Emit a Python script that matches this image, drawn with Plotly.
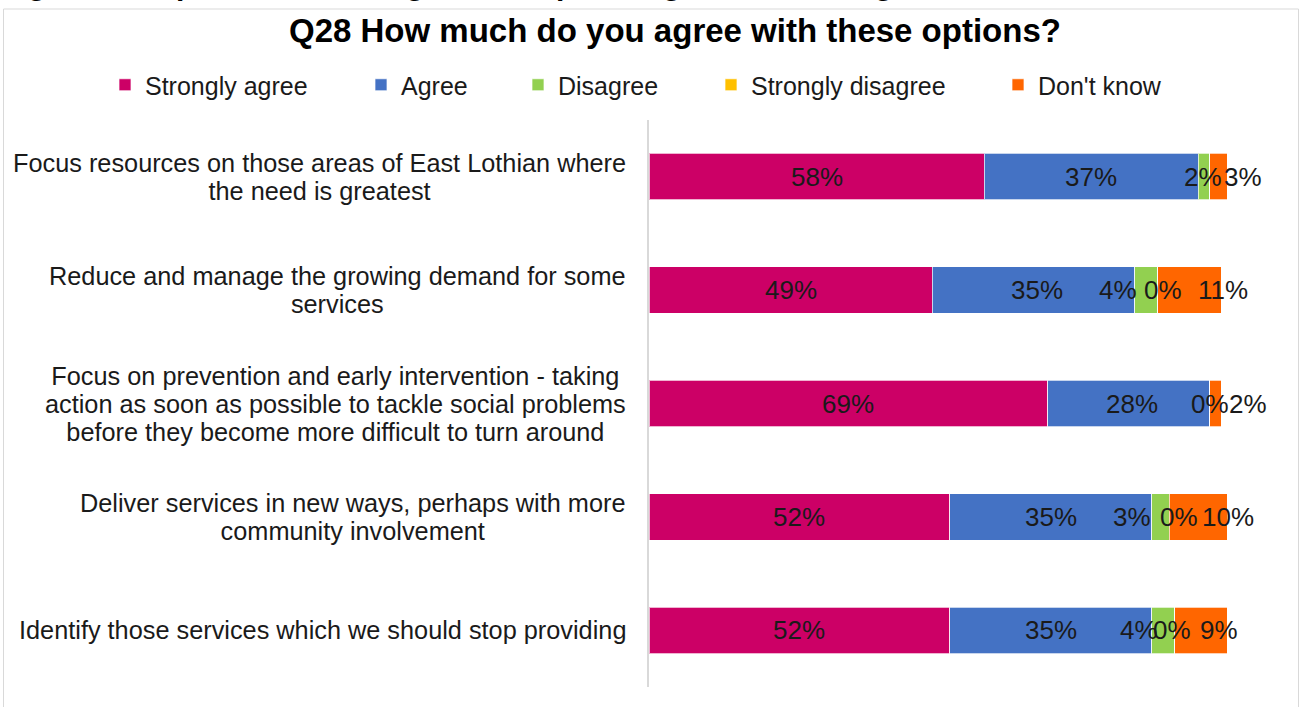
import plotly.graph_objects as go

# Survey statements (top to bottom)
statements = [
    "Focus resources on those areas of East Lothian where<br>the need is greatest",
    "Reduce and manage the growing demand for some<br>services",
    "Focus on prevention and early intervention - taking<br>action as soon as possible to tackle social problems<br>before they become more difficult to turn around",
    "Deliver services in new ways, perhaps with more<br>community involvement",
    "Identify those services which we should stop providing",
]

# Response shares in percent (None = no label shown)
strongly_agree = [58, 49, 69, 52, 52]
agree = [37, 35, 28, 35, 35]
disagree = [2, 4, 0, 3, 4]
strongly_disagree = [None, 0, None, 0, 0]
dont_know = [3, 11, 2, 10, 9]

series_names = ["Strongly agree", "Agree", "Disagree", "Strongly disagree", "Don't know"]
series_values = [strongly_agree, agree, disagree, strongly_disagree, dont_know]
series_colors = ["#CC0066", "#4472C4", "#92D050", "#FFC000", "#FF6600"]

# Horizontal nudges (px) for data labels that would otherwise collide
label_nudge = [
    [0, 0, -1, 0, 25],
    [0, 4, -28, 5, 34],
    [0, 3, 0, 0, 33],
    [0, 0, -29, 10, 30],
    [0, 0, -24, -3, 18],
]

# Legend symbol centres (px from left)
legend_x_px = [125, 381, 538, 731, 1018]

W, H = 1304, 707
ML, MR, MT, MB = 649, 77, 120, 20
PW, PH = W - ML - MR, H - MT - MB

FONT = "Arial, Liberation Sans, sans-serif"
TEXT = "#1a1a1a"


def px_x(x):
    return (x - ML) / PW


def px_y(y):
    return 1 - (y - MT) / PH


fig = go.Figure()
for i, (name, vals, col) in enumerate(zip(series_names, series_values, series_colors)):
    fig.add_trace(go.Bar(
        y=statements,
        x=[v if v is not None else 0 for v in vals],
        name=name,
        orientation="h",
        marker=dict(color=col, line=dict(color="rgba(255,255,255,0.7)", width=1)),
        width=0.41,
        hoverinfo="skip",
        legend="legend" if i == 0 else f"legend{i + 1}",
    ))

# Data labels centred on each segment
annotations = []
for r, stmt in enumerate(statements):
    cum = 0
    for s, vals in enumerate(series_values):
        v = vals[r]
        if v is None:
            continue
        annotations.append(dict(
            x=cum + v / 2, y=stmt, xref="x", yref="y",
            text=f"{v}%", showarrow=False, xshift=label_nudge[r][s],
            font=dict(family=FONT, size=26, color=TEXT),
        ))
        cum += v

# Category labels, centred lines, right-aligned block
for stmt in statements:
    lines = stmt.split("<br>")
    styled = "<br>".join(f'<span style="font-size:25.3px">{ln}</span>' for ln in lines)
    annotations.append(dict(
        x=px_x(628), y=stmt, xref="paper", yref="y",
        xanchor="right", yanchor="middle", align="center",
        text=styled, showarrow=False,
        font=dict(family=FONT, size=21.5, color=TEXT),
    ))

# Chart title
annotations.append(dict(
    x=px_x(675), y=px_y(30), xref="paper", yref="paper",
    xanchor="center", yanchor="middle",
    text="<b>Q28 How much do you agree with these options?</b>", showarrow=False,
    font=dict(family=FONT, size=33, color="#000000"),
))

# Figure caption above the chart frame
annotations.append(dict(
    x=px_x(-1), y=px_y(-16), xref="paper", yref="paper",
    xanchor="left", yanchor="middle",
    text="<b>Figure 33: Opinions on changes to the planning and delivering of services</b>",
    showarrow=False,
    font=dict(family=FONT, size=30, color="#000000"),
))

layout_legends = {}
for i, lx in enumerate(legend_x_px):
    key = "legend" if i == 0 else f"legend{i + 1}"
    layout_legends[key] = dict(
        x=px_x(lx - 20), y=px_y(85), xref="paper", yref="paper",
        xanchor="left", yanchor="middle", orientation="h",
        font=dict(family=FONT, size=25, color=TEXT),
        bgcolor="rgba(0,0,0,0)", borderwidth=0,
    )

fig.update_layout(
    width=W, height=H,
    margin=dict(l=ML, r=MR, t=MT, b=MB),
    barmode="stack",
    paper_bgcolor="white", plot_bgcolor="white",
    showlegend=True,
    xaxis=dict(range=[0, 100], visible=False, fixedrange=True),
    yaxis=dict(autorange="reversed", showticklabels=False, ticks="",
               showgrid=False, zeroline=False,
               showline=True, linecolor="#d9d9d9", linewidth=1.5),
    annotations=annotations,
    shapes=[dict(
        type="rect", xref="paper", yref="paper",
        x0=px_x(3.5), x1=px_x(1298.5), y0=px_y(712), y1=px_y(9),
        line=dict(color="#d9d9d9", width=1), fillcolor="rgba(0,0,0,0)",
        layer="below",
    )],
    **layout_legends,
)

fig.write_html("out.html")
